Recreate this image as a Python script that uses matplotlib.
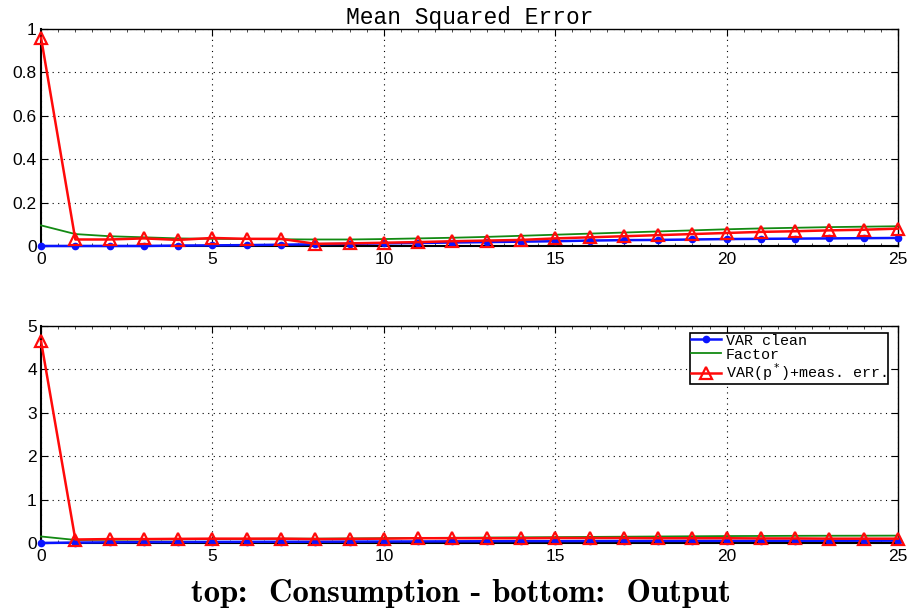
import numpy as np
import matplotlib
matplotlib.use("Agg")
import matplotlib.pyplot as plt
from matplotlib.ticker import MultipleLocator

horizon = np.arange(26)

# Consumption (top panel)
cons_var_clean = [0.000, 0.000, 0.000, 0.000, 0.002, 0.003, 0.004, 0.006, 0.008, 0.010,
                  0.012, 0.014, 0.016, 0.018, 0.020, 0.022, 0.025, 0.027, 0.028, 0.030,
                  0.032, 0.033, 0.034, 0.035, 0.036, 0.037]
cons_factor = [0.095, 0.055, 0.045, 0.040, 0.035, 0.033, 0.032, 0.031, 0.030, 0.030,
               0.032, 0.035, 0.038, 0.042, 0.047, 0.052, 0.057, 0.062, 0.067, 0.072,
               0.077, 0.081, 0.084, 0.087, 0.089, 0.091]
cons_var_meas = [0.960, 0.030, 0.030, 0.035, 0.028, 0.037, 0.033, 0.033, 0.010, 0.012,
                 0.015, 0.018, 0.022, 0.025, 0.028, 0.035, 0.040, 0.045, 0.050, 0.055,
                 0.060, 0.065, 0.068, 0.072, 0.075, 0.080]

# Output (bottom panel)
out_var_clean = [0.000, 0.010, 0.015, 0.020, 0.022, 0.025, 0.027, 0.028, 0.030, 0.032,
                 0.034, 0.036, 0.038, 0.040, 0.042, 0.043, 0.045, 0.046, 0.047, 0.048,
                 0.049, 0.050, 0.051, 0.052, 0.053, 0.054]
out_factor = [0.150, 0.070, 0.075, 0.080, 0.085, 0.090, 0.095, 0.100, 0.100, 0.105,
              0.110, 0.115, 0.120, 0.125, 0.130, 0.135, 0.140, 0.145, 0.150, 0.155,
              0.160, 0.162, 0.165, 0.167, 0.168, 0.170]
out_var_meas = [4.650, 0.080, 0.090, 0.090, 0.095, 0.100, 0.100, 0.100, 0.090, 0.095,
                0.100, 0.110, 0.110, 0.110, 0.110, 0.115, 0.115, 0.115, 0.110, 0.110,
                0.110, 0.105, 0.105, 0.100, 0.100, 0.100]

series_labels = ["VAR clean", "Factor", "VAR(p$^*$)+meas. err."]
x_ticks = [0, 5, 10, 15, 20, 25]

fig = plt.figure(figsize=(9.12, 6.13), dpi=100)
ax_top = fig.add_axes([0.045, 0.5987, 0.9397, 0.354])
ax_bot = fig.add_axes([0.045, 0.1142, 0.9397, 0.354])

TICK_FAMILY = "Liberation Sans"
TICK_SIZE = 12.5


def draw_panel(ax, clean, factor, meas, ymax, ystep):
    l1, = ax.plot(horizon, clean, color="#0a14ff", lw=1.8, marker="o", ms=4.5,
                  mec="#0a14ff", mfc="#0a14ff", clip_on=False, zorder=4)
    l2, = ax.plot(horizon, factor, color="#138a13", lw=1.3, clip_on=False, zorder=3)
    l3, = ax.plot(horizon, meas, color="#ff0a0a", lw=1.8, marker="^", ms=9,
                  mec="#ff0a0a", mfc="none", mew=1.6, clip_on=False, zorder=5)
    ax.set_xlim(0, 25)
    ax.set_ylim(0, ymax)
    ax.set_xticks(x_ticks)
    ax.yaxis.set_major_locator(MultipleLocator(ystep))
    ax.xaxis.set_minor_locator(MultipleLocator(0.5))
    ax.grid(True, which="major", color="black", linestyle=(0, (1, 4)), lw=0.8)
    ax.tick_params(which="both", direction="in", top=True, right=True)
    ax.tick_params(axis="x", which="major", pad=4)
    ax.tick_params(axis="y", which="major", pad=3)
    ax.tick_params(which="major", length=5, width=0.8)
    ax.tick_params(which="minor", length=2, width=0.5)
    for lbl in ax.get_xticklabels() + ax.get_yticklabels():
        lbl.set_fontfamily(TICK_FAMILY)
        lbl.set_fontsize(TICK_SIZE)
    for sp in ax.spines.values():
        sp.set_linewidth(1.0)
    ax.spines["left"].set_linewidth(1.5)
    ax.spines["bottom"].set_linewidth(1.5)
    return l1, l2, l3


draw_panel(ax_top, cons_var_clean, cons_factor, cons_var_meas, 1.0, 0.2)
ax_top.set_yticks([0, 0.2, 0.4, 0.6, 0.8, 1.0])
ax_top.set_yticklabels(["0", "0.2", "0.4", "0.6", "0.8", "1"],
                       fontfamily=TICK_FAMILY, fontsize=TICK_SIZE)
ax_top.set_title("Mean Squared Error", fontfamily="Liberation Mono", fontsize=16.5, pad=3)

handles = draw_panel(ax_bot, out_var_clean, out_factor, out_var_meas, 5.0, 1.0)
leg = ax_bot.legend(handles, series_labels, loc="upper right",
                    bbox_to_anchor=(0.988, 0.968),
                    prop={"family": "Liberation Mono", "size": 10.8},
                    frameon=True, fancybox=False, edgecolor="black", framealpha=1,
                    handlelength=2.0, handletextpad=0.3, labelspacing=0.0,
                    borderpad=0.05, borderaxespad=0)
leg.get_frame().set_linewidth(1.2)

ax_bot.set_xlabel("top:  Consumption - bottom:  Output", fontfamily="cmb10",
                  fontsize=23.5)
ax_bot.xaxis.set_label_coords(0.49, -0.165)
ax_bot.xaxis.label.set_verticalalignment("top")

fig.savefig("out.png", dpi=100)
